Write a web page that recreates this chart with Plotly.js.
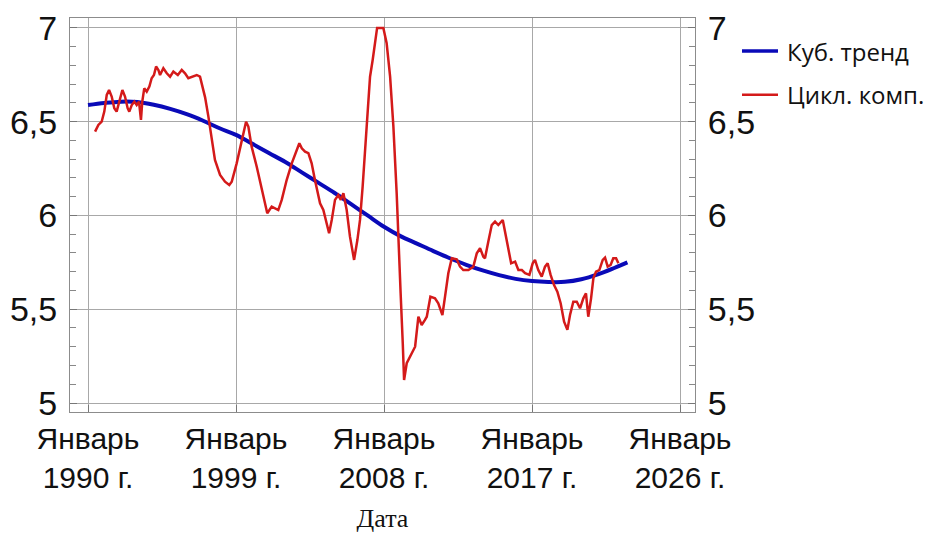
<!DOCTYPE html>
<html>
<head>
<meta charset="utf-8">
<script src="https://cdn.plot.ly/plotly-3.0.1.min.js"></script>
<style>html,body{margin:0;padding:0;background:#fff;}#chart{width:935px;height:535px;}</style>
</head>
<body>
<div id="chart"></div>
<script>
// Cubic trend (decimal years)
const trendYears = [1990,1991,1992,1993,1994,1995,1996,1997,1998,1999,2000,2001,2002,2003,2004,2005,2006,2007,2008,2009,2010,2011,2012,2013,2014,2015,2016,2017,2018,2019,2020,2021,2022,2022.8];
const trendValues = [6.589,6.600,6.607,6.605,6.590,6.568,6.540,6.505,6.465,6.430,6.382,6.333,6.285,6.230,6.175,6.120,6.060,6.000,5.940,5.890,5.850,5.810,5.772,5.737,5.707,5.682,5.662,5.650,5.645,5.646,5.660,5.686,5.720,5.750];

// Cyclical component (decimal years)
const cycleYears = [1990.43,1990.63,1990.83,1990.99,1991.14,1991.28,1991.44,1991.60,1991.74,1991.90,1992.09,1992.25,1992.41,1992.51,1992.66,1992.82,1992.96,1993.10,1993.22,1993.30,1993.42,1993.57,1993.73,1993.87,1994.01,1994.14,1994.28,1994.38,1994.58,1994.79,1994.99,1995.19,1995.46,1995.70,1995.90,1996.10,1996.31,1996.61,1996.81,1996.95,1997.12,1997.32,1997.52,1997.72,1998.03,1998.33,1998.59,1998.74,1999.04,1999.35,1999.51,1999.61,1999.75,1999.95,2000.26,2000.50,2000.70,2000.90,2001.17,2001.37,2001.57,2001.78,2002.08,2002.39,2002.65,2002.85,2003.00,2003.20,2003.40,2003.60,2003.80,2004.00,2004.11,2004.31,2004.51,2004.66,2004.82,2005.02,2005.22,2005.37,2005.53,2005.73,2005.93,2006.18,2006.38,2006.54,2006.70,2006.84,2007.00,2007.15,2007.31,2007.45,2007.58,2007.96,2008.16,2008.37,2008.57,2008.77,2008.87,2009.01,2009.14,2009.22,2009.38,2009.58,2009.89,2010.09,2010.29,2010.49,2010.60,2010.82,2011.10,2011.30,2011.55,2011.71,2011.91,2012.12,2012.42,2012.62,2012.82,2013.13,2013.43,2013.64,2013.84,2014.04,2014.14,2014.34,2014.55,2014.75,2014.95,2015.22,2015.36,2015.56,2015.73,2015.97,2016.17,2016.38,2016.58,2016.84,2017.04,2017.18,2017.38,2017.59,2017.79,2017.95,2018.13,2018.34,2018.54,2018.74,2018.95,2019.15,2019.31,2019.51,2019.72,2019.92,2020.12,2020.28,2020.42,2020.59,2020.73,2020.89,2021.09,2021.30,2021.44,2021.60,2021.78,2021.94,2022.11,2022.25];
const cycleValues = [6.447,6.483,6.500,6.554,6.643,6.669,6.634,6.572,6.554,6.607,6.669,6.634,6.572,6.554,6.589,6.607,6.589,6.607,6.510,6.607,6.678,6.660,6.687,6.732,6.749,6.794,6.776,6.749,6.785,6.758,6.740,6.767,6.749,6.776,6.758,6.732,6.740,6.749,6.740,6.696,6.630,6.527,6.403,6.296,6.216,6.180,6.163,6.180,6.278,6.403,6.474,6.500,6.474,6.367,6.260,6.172,6.083,6.012,6.047,6.038,6.029,6.083,6.189,6.278,6.340,6.385,6.358,6.340,6.332,6.278,6.189,6.100,6.065,6.029,5.958,5.905,5.976,6.083,6.109,6.083,6.118,6.029,5.887,5.763,5.869,5.976,6.154,6.332,6.509,6.740,6.829,6.918,7.000,7.000,6.918,6.740,6.474,6.118,5.850,5.585,5.318,5.123,5.212,5.247,5.300,5.460,5.416,5.443,5.460,5.567,5.558,5.532,5.469,5.567,5.692,5.772,5.766,5.727,5.709,5.709,5.727,5.798,5.825,5.780,5.772,5.860,5.949,5.967,5.949,5.976,5.914,5.825,5.745,5.754,5.709,5.709,5.692,5.683,5.745,5.763,5.709,5.674,5.727,5.745,5.683,5.629,5.594,5.532,5.434,5.390,5.469,5.540,5.540,5.505,5.558,5.585,5.460,5.558,5.665,5.700,5.709,5.763,5.775,5.727,5.736,5.772,5.772,5.745];

const xTickVals = [1990, 1999, 2008, 2017, 2026];
const xTickText = ["Январь<br>1990 г.", "Январь<br>1999 г.", "Январь<br>2008 г.", "Январь<br>2017 г.", "Январь<br>2026 г."];
const yTickVals = [5, 5.5, 6, 6.5, 7];
const yTickText = ["5", "5,5", "6", "6,5", "7"];
const seriesNames = ["Куб. тренд", "Цикл. комп."];
const seriesColors = ["#0a0ab8", "#d41a1a"];

const gridColor = "#a8a8a8";
const lineColor = "#8c8c8c";

const traces = [
  {x: trendYears, y: trendValues, type: "scatter", mode: "lines", name: seriesNames[0],
   line: {color: seriesColors[0], width: 4, shape: "spline"}},
  {x: cycleYears, y: cycleValues, type: "scatter", mode: "lines", name: seriesNames[1],
   line: {color: seriesColors[1], width: 2.5}},
  // carrier so the mirrored right-hand value axis is drawn (invisible)
  {x: trendYears, y: trendValues, type: "scatter", mode: "lines", yaxis: "y2", showlegend: false,
   hoverinfo: "skip", line: {color: "rgba(0,0,0,0)", width: 0}}
];

const yCommon = {
  range: [4.952, 7.053], tickmode: "array", tickvals: yTickVals, ticktext: yTickText,
  ticks: "inside", ticklen: 7, tickcolor: "#777", showline: true, linecolor: lineColor, linewidth: 1,
  tickfont: {family: "Liberation Sans, Arial, sans-serif", size: 34, color: "#111"},
  ticklabelstandoff: 5,
  minor: {dtick: 0.1, ticks: "inside", ticklen: 6, tickcolor: "#888", showgrid: false},
  zeroline: false, automargin: false
};

// Manual legend (paper coordinates)
const legendRows = [0.916, 0.805];
const legendShapes = seriesNames.map((n, i) => ({
  type: "line", xref: "paper", yref: "paper", x0: 1.0752, x1: 1.1328, y0: legendRows[i], y1: legendRows[i],
  line: {color: seriesColors[i], width: i === 0 ? 3.5 : 2.5}
}));
const legendLabels = seriesNames.map((n, i) => ({
  xref: "paper", yref: "paper", x: 1.1440, y: legendRows[i], xanchor: "left", yanchor: "middle",
  text: n, showarrow: false, font: {family: "Open Sans, Noto Sans, sans-serif", size: 24, color: "#111"}
}));

const layout = {
  width: 935, height: 535,
  margin: {l: 70, r: 240, t: 18, b: 123},
  paper_bgcolor: "#fff", plot_bgcolor: "#fff",
  showlegend: false,
  shapes: legendShapes,
  annotations: legendLabels,
  xaxis: {
    range: [1988.905, 2026.91], tickmode: "array", tickvals: xTickVals, ticktext: xTickText,
    showgrid: true, gridcolor: gridColor, gridwidth: 1,
    ticks: "inside", ticklen: 7, tickcolor: "#777",
    showline: true, mirror: true, linecolor: lineColor, linewidth: 1, zeroline: false, automargin: false,
    tickfont: {family: "Liberation Sans Narrow, Arial Narrow, Liberation Sans, sans-serif", size: 30, color: "#111"},
    title: {text: "Дата", font: {family: "Liberation Serif, Times New Roman, serif", size: 26, color: "#111"}, standoff: 15}
  },
  yaxis: Object.assign({}, yCommon, {side: "left", showgrid: true, gridcolor: gridColor, gridwidth: 1}),
  yaxis2: Object.assign({}, yCommon, {side: "right", overlaying: "y", matches: "y", showgrid: false})
};

Plotly.newPlot("chart", traces, layout, {displayModeBar: false, staticPlot: true});
</script>
</body>
</html>
